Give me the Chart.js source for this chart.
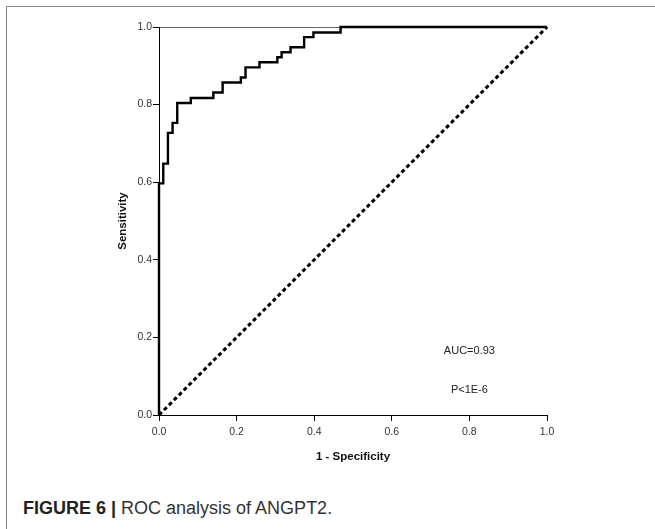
<!DOCTYPE html>
<html>
<head>
<meta charset="utf-8">
<script src="https://cdn.jsdelivr.net/npm/chart.js@4"></script>
<style>
  html, body { margin: 0; padding: 0; background: #fff; }
  body { width: 655px; height: 529px; position: relative; overflow: hidden; font-family: "Liberation Sans", Arial, sans-serif; }
  #frame { position: absolute; left: 6px; top: 6px; width: 660px; height: 540px; border-top: 1.5px solid #8a8a8a; border-left: 1.5px solid #8a8a8a; }
  #wrap { position: absolute; left: 0; top: 0; width: 655px; height: 480px; }
  #caption { position: absolute; left: 23px; top: 497px; font-size: 18px; line-height: 22px; color: #333; white-space: nowrap; }
  #caption b { color: #222; }
</style>
</head>
<body>
<div id="frame"></div>
<div id="wrap"><canvas id="roc"></canvas></div>
<div id="caption"><b>FIGURE 6 |</b> ROC analysis of ANGPT2.</div>
<script>
// ROC curve (step points)
const fpr = [0, 0, 0.011, 0.023, 0.035, 0.047, 0.082, 0.140, 0.164, 0.211, 0.223, 0.259, 0.305, 0.316, 0.339, 0.374, 0.398, 0.468, 0.585, 1.0];
const tpr = [0, 0.505, 0.597, 0.648, 0.727, 0.753, 0.804, 0.817, 0.831, 0.857, 0.870, 0.896, 0.909, 0.922, 0.935, 0.948, 0.974, 0.986, 1.0, 1.0];
const refX = [0, 1];
const refY = [0, 1];
const tickVals = [0, 0.2, 0.4, 0.6, 0.8, 1.0];
const notes = ['AUC=0.93', 'P<1E-6'];
const notePos = [[0.8, 0.165], [0.8, 0.065]];

const textPlugin = {
    id: 'notes',
    afterDatasetsDraw(chart) {
        const ctx = chart.ctx;
        const xs = chart.scales.x, ys = chart.scales.y;
        ctx.save();
        ctx.font = '11px "Liberation Sans", Arial, sans-serif';
        ctx.fillStyle = '#222';
        ctx.textAlign = 'center';
        ctx.textBaseline = 'middle';
        notes.forEach((t, i) => {
            ctx.fillText(t, xs.getPixelForValue(notePos[i][0]), ys.getPixelForValue(notePos[i][1]));
        });
        ctx.restore();
    }
};

const tickFont = { family: '"Liberation Sans", Arial, sans-serif', size: 10.5 };
const titleFont = { family: '"Liberation Sans", Arial, sans-serif', size: 11.5, weight: 'bold' };

new Chart(document.getElementById('roc'), {
    type: 'line',
    data: {
        datasets: [{
            data: fpr.map((v, i) => ({ x: v, y: tpr[i] })),
            borderColor: '#000',
            borderWidth: 2.4,
            stepped: 'after',
            pointRadius: 0,
            fill: false,
            clip: false
        }, {
            data: refX.map((v, i) => ({ x: v, y: refY[i] })),
            borderColor: '#000',
            borderWidth: 3,
            borderDash: [4, 3],
            pointRadius: 0,
            fill: false,
            clip: false
        }]
    },
    options: {
        responsive: true,
        maintainAspectRatio: false,
        animation: false,
        layout: { padding: { left: 112, top: 27, right: 108, bottom: 16 } },
        plugins: { legend: { display: false }, tooltip: { enabled: false } },
        scales: {
            x: {
                type: 'linear',
                min: 0, max: 1,
                afterBuildTicks: s => { s.ticks = tickVals.map(v => ({ value: v })); },
                afterFit: s => { s.height = 49; },
                ticks: { font: tickFont, color: '#333', padding: 5, maxRotation: 0, callback: v => v.toFixed(1) },
                grid: { display: true, drawOnChartArea: false, drawTicks: true, tickLength: 6, color: '#000', lineWidth: 1 },
                border: { display: true, color: '#000', width: 1 },
                title: { display: true, text: '1 - Specificity', font: titleFont, color: '#111', padding: { top: 4, bottom: 0 } }
            },
            x2: {
                type: 'linear',
                position: 'top',
                min: 0, max: 1,
                afterFit: s => { s.height = 0; },
                ticks: { display: false },
                grid: { display: false },
                border: { display: true, color: '#666', width: 1 }
            },
            y: {
                type: 'linear',
                min: 0, max: 1,
                afterBuildTicks: s => { s.ticks = tickVals.map(v => ({ value: v })); },
                afterFit: s => { s.width = 47; },
                ticks: { font: tickFont, color: '#333', padding: 1, callback: v => v.toFixed(1) },
                grid: { display: true, drawOnChartArea: false, drawTicks: true, tickLength: 6, color: '#000', lineWidth: 1 },
                border: { display: true, color: '#000', width: 1 },
                title: { display: true, text: 'Sensitivity', font: titleFont, color: '#111', padding: { top: 4, bottom: 0 } }
            }
        }
    },
    plugins: [textPlugin]
});
</script>
</body>
</html>
